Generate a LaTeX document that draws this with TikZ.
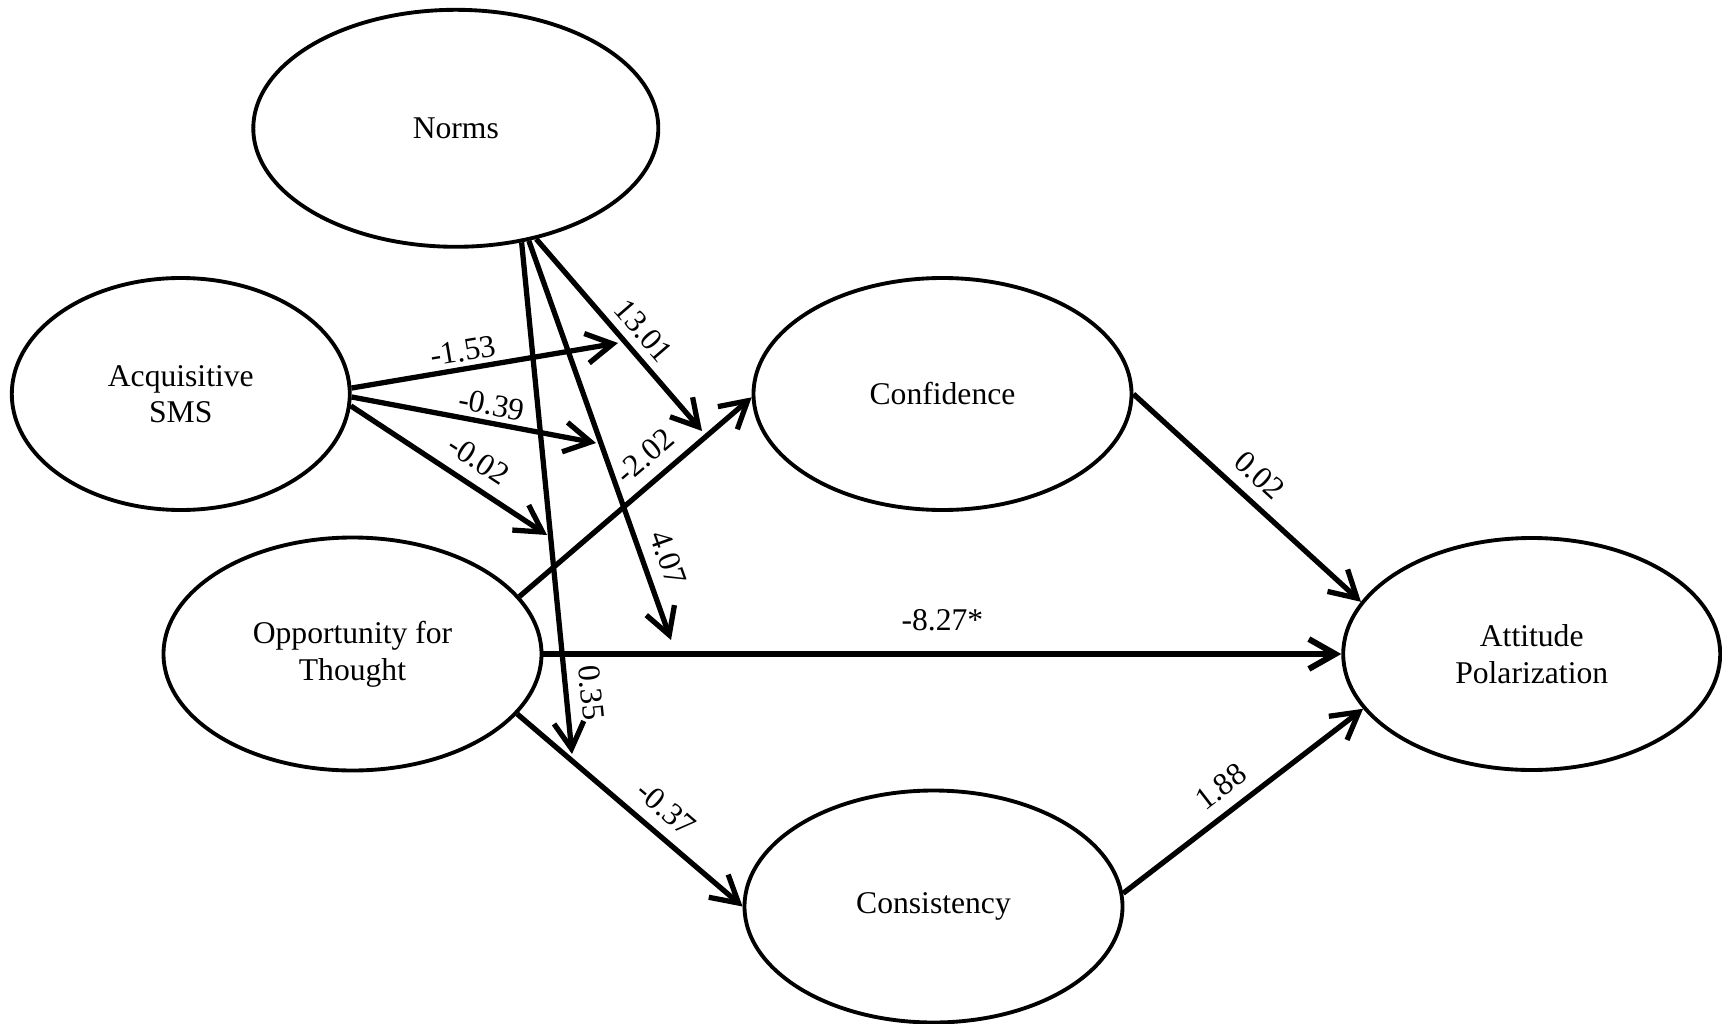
\documentclass[tikz,border=0pt]{standalone}
\usepackage{fontspec}
\setmainfont{Liberation Serif}
\usetikzlibrary{arrows.meta,shapes.geometric}

\begin{document}
\begin{tikzpicture}[x=0.1mm,y=-0.1mm,
  construct/.style={draw, ellipse, line width=1.1pt, inner sep=0pt, align=center,
    font=\fontsize{9pt}{10.4pt}\selectfont},
  effect/.style={line width=1.5pt, -{Straight Barb[length=7.5pt,width=8.5pt]}},
  coef/.style={font=\fontsize{9pt}{10.4pt}\selectfont, sloped, above}]
\useasboundingbox (0,0) rectangle (1722,1024);

% latent constructs
\node[construct, minimum width=40.5mm, minimum height=23.7mm] (norms) at (455.8,128.3) {Norms};
\node[construct, minimum width=33.8mm, minimum height=23.2mm] (sms) at (180.8,394) {Acquisitive\\SMS};
\node[construct, minimum width=37.8mm, minimum height=23.3mm] (opp) at (352.5,654) {Opportunity for\\Thought};
\node[construct, minimum width=37.8mm, minimum height=23.2mm] (conf) at (942.5,394) {Confidence};
\node[construct, minimum width=37.7mm, minimum height=23.2mm] (att) at (1531.7,654) {Attitude\\Polarization};
\node[construct, minimum width=37.8mm, minimum height=23.2mm] (cons) at (933.5,906.5) {Consistency};

% points on the moderated paths
\coordinate (tipA) at (618,343);
\coordinate (tipB) at (596,443);
\coordinate (tipC) at (547,535);
\coordinate (tipX) at (702,431);
\coordinate (tipY) at (671,640);
\coordinate (tipZ) at (572,754);

% moderation by Norms
\draw[effect] (norms.-60) -- node[coef,pos=0.885] {0.35} (tipZ);
\draw[effect] (norms.-57) -- node[coef,pos=0.815] {4.07} (tipY);
\draw[effect] (norms.-54) -- node[coef,pos=0.55,above=-1pt] {13.01} (tipX);

% three-way terms with Acquisitive SMS
\draw[effect] (sms.2) -- node[coef,pos=0.43,above=-2pt] {-1.53} (tipA);
\draw[effect] (sms.-1) -- node[coef,pos=0.56,above=-2pt] {-0.39} (tipB);
\draw[effect] (sms.-4) -- node[coef,pos=0.58] {-0.02} (tipC);

% structural paths
\draw[effect] (opp.19) -- node[coef,pos=0.61] {-2.02} (conf.181);
\draw[effect, line width=1.7pt] (opp.east) -- node[coef,pos=0.5,above=2.5pt] {-8.27*} (att.west);
\draw[effect] (opp.-20) -- node[coef,pos=0.59] {-0.37} (cons.180);
\draw[effect] (conf.east) -- node[coef,pos=0.48] {0.02} (att.163);
\draw[effect] (cons.4) -- node[coef,pos=0.47] {1.88} (att.198);
\end{tikzpicture}
\end{document}
